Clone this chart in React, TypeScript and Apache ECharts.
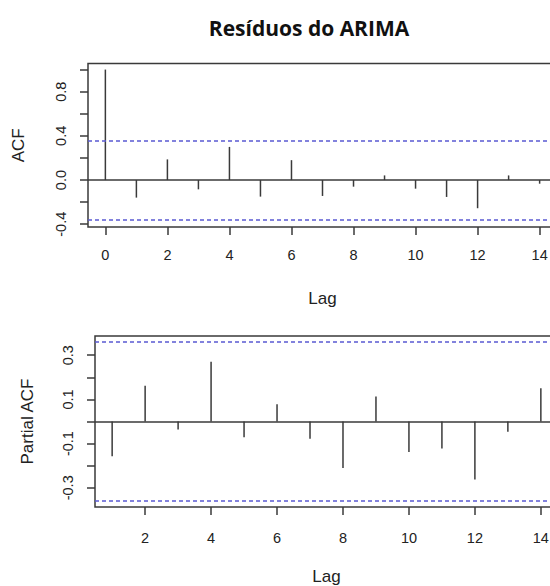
import React, { useEffect, useRef } from "react";
import * as echarts from "echarts";

const titleText = "Resíduos do ARIMA";
const acfLags = [0, 1, 2, 3, 4, 5, 6, 7, 8, 9, 10, 11, 12, 13, 14];
const acfValues = [1.0, -0.159, 0.187, -0.084, 0.3, -0.15, 0.18, -0.144, -0.06, 0.042, -0.078, -0.153, -0.255, 0.042, -0.033];
const pacfLags = [1, 2, 3, 4, 5, 6, 7, 8, 9, 10, 11, 12, 13, 14];
const pacfValues = [-0.157, 0.162, -0.036, 0.271, -0.071, 0.078, -0.078, -0.21, 0.113, -0.138, -0.122, -0.263, -0.046, 0.151];
const ciLimit = 0.358;
const acfYTicks = [-0.4, -0.2, 0, 0.2, 0.4, 0.6, 0.8, 1.0];
const acfYLabels = [-0.4, 0, 0.4, 0.8];
const acfXTicks = [0, 2, 4, 6, 8, 10, 12, 14];
const pacfYTicks = [-0.3, -0.2, -0.1, 0, 0.1, 0.2, 0.3];
const pacfYLabels = [-0.3, -0.1, 0.1, 0.3];
const pacfXTicks = [2, 4, 6, 8, 10, 12, 14];

const FONT = "'Liberation Sans', Arial, sans-serif";
const INK = "#3a3a3a";
const BLUE = "#5a5ad2";

export default function App() {
  const ref = useRef<HTMLDivElement>(null);
  useEffect(() => {
    if (!ref.current) return;
    const chart = echarts.init(ref.current, null, { renderer: "svg" });
    const renderItem = (params: any, api: any) => {
      const p0 = api.coord([api.value(0), 0]);
      const p1 = api.coord([api.value(0), api.value(1)]);
      return {
        type: "line",
        shape: { x1: p0[0], y1: p0[1], x2: p1[0], y2: p1[1] },
        style: { stroke: INK, lineWidth: 1.5 },
      };
    };
    const markLine = {
      silent: true,
      symbol: ["none", "none"],
      label: { show: false },
      animation: false,
      data: [
        { yAxis: 0, lineStyle: { type: "solid", color: INK, width: 1.5 } },
        { yAxis: ciLimit, lineStyle: { type: [4, 3], color: BLUE, width: 1.5 } },
        { yAxis: -ciLimit, lineStyle: { type: [4, 3], color: BLUE, width: 1.5 } },
      ],
    };
    const xAxisBase = (min: number, max: number, ticks: number[], gridIndex: number, gap: number, margin: number) => ({
      type: "value",
      gridIndex,
      position: "bottom",
      min,
      max,
      name: "Lag",
      nameLocation: "middle",
      nameGap: gap,
      nameTextStyle: { fontFamily: FONT, fontSize: 17, color: "#222" },
      axisLine: { show: false, onZero: false },
      splitLine: { show: false },
      axisTick: { show: true, inside: false, length: 8, customValues: ticks, lineStyle: { color: INK, width: 1.5 } },
      axisLabel: { show: true, customValues: ticks, margin, fontFamily: FONT, fontSize: 14.5, color: "#222" },
    });
    const yAxisBase = (min: number, max: number, ticks: number[], labels: number[], name: string, gridIndex: number, gap: number) => ({
      type: "value",
      gridIndex,
      position: "left",
      min,
      max,
      name,
      nameLocation: "middle",
      nameRotate: 90,
      nameGap: gap,
      nameTextStyle: { fontFamily: FONT, fontSize: 17, color: "#222" },
      axisLine: { show: false, onZero: false },
      splitLine: { show: false },
      axisTick: { show: true, inside: false, length: 8, customValues: ticks, lineStyle: { color: INK, width: 1.5 } },
      axisLabel: {
        show: true,
        customValues: labels,
        rotate: 90,
        margin: 20,
        fontFamily: FONT,
        fontSize: 14.5,
        color: "#222",
        formatter: (v: number) => v.toFixed(1),
      },
    });
    chart.setOption({
      animation: false,
      title: {
        text: titleText,
        left: 304,
        textAlign: "center",
        top: 12,
        textStyle: { fontFamily: "'Open Sans', sans-serif", fontWeight: "bold", fontSize: 21, color: "#111" },
      },
      grid: [
        { left: 88, top: 63.5, width: 469, height: 163.5, show: true, borderColor: INK, borderWidth: 1.5, backgroundColor: "transparent", containLabel: false, outerBoundsMode: "none" },
        { left: 95, top: 336, width: 463, height: 171, show: true, borderColor: INK, borderWidth: 1.5, backgroundColor: "transparent", containLabel: false, outerBoundsMode: "none" },
      ],
      xAxis: [
        xAxisBase(-0.56, 14.56, acfXTicks, 0, 63, 20),
        xAxisBase(0.48, 14.52, pacfXTicks, 1, 61, 23),
      ],
      yAxis: [
        yAxisBase(-0.425, 1.055, acfYTicks, acfYLabels, "ACF", 0, 61),
        yAxisBase(-0.387, 0.387, pacfYTicks, pacfYLabels, "Partial ACF", 1, 59),
      ],
      series: [
        {
          type: "custom",
          xAxisIndex: 0,
          yAxisIndex: 0,
          renderItem,
          encode: { x: 0, y: 1 },
          data: acfLags.map((l, i) => [l, acfValues[i]]),
          markLine,
        },
        {
          type: "custom",
          xAxisIndex: 1,
          yAxisIndex: 1,
          renderItem,
          encode: { x: 0, y: 1 },
          data: pacfLags.map((l, i) => [l, pacfValues[i]]),
          markLine,
        },
      ],
    });
    return () => chart.dispose();
  }, []);
  return (
    <div style={{ position: "absolute", left: 0, top: 0, width: 550, height: 586, overflow: "hidden", background: "#fff" }}>
      <div ref={ref} style={{ width: 570, height: 586 }} />
    </div>
  );
}
